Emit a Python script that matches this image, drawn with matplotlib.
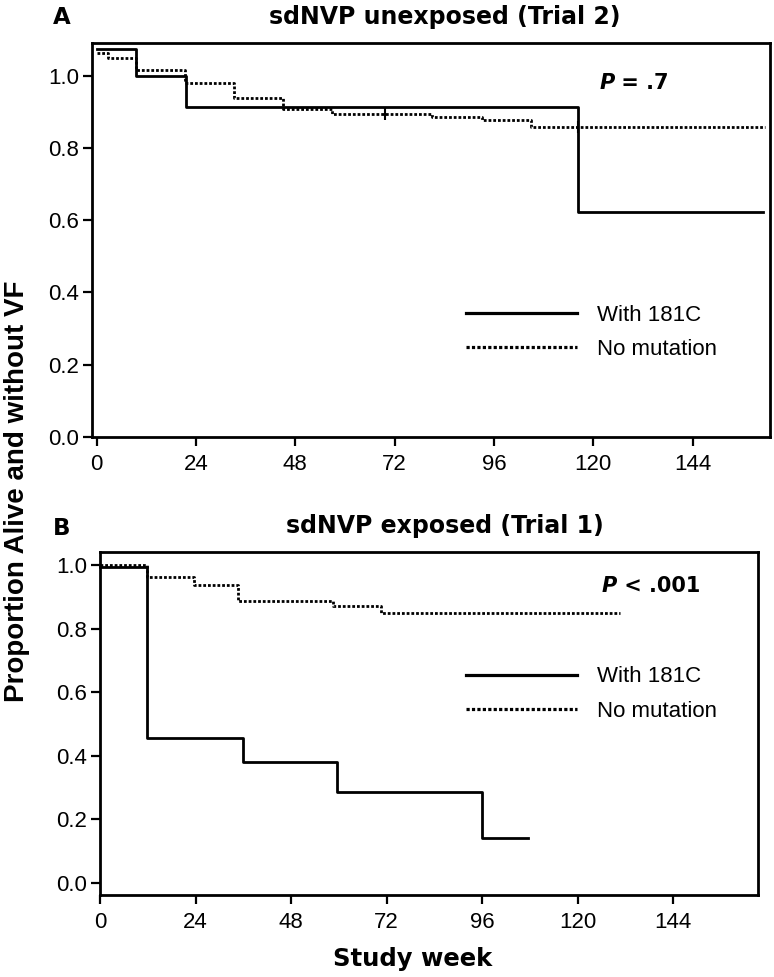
import matplotlib
matplotlib.use('Agg')
import matplotlib.pyplot as plt

plt.rcParams['font.family'] = ['Liberation Sans', 'DejaVu Sans']

# Panel A: sdNVP unexposed (Trial 2)
a_mut_weeks = [0, 9.6, 21.6, 116.4, 161.0]
a_mut_surv = [1.074, 1.0, 0.915, 0.623, 0.623]
a_none_weeks = [0, 2.8, 9.5, 21.3, 33.1, 45.1, 56.9, 81.0, 93.1, 104.9, 161.6]
a_none_surv = [1.063, 1.049, 1.018, 0.980, 0.938, 0.908, 0.894, 0.887, 0.878, 0.858, 0.858]
a_cens_weeks = [69.6, 116.4]
a_cens_surv = [0.894, 0.858]

# Panel B: sdNVP exposed (Trial 1)
b_mut_weeks = [0, 11.7, 36.0, 59.5, 95.9, 107.6]
b_mut_surv = [0.993, 0.455, 0.379, 0.284, 0.142, 0.142]
b_none_weeks = [0, 11.7, 23.7, 34.6, 58.6, 70.6, 130.5]
b_none_surv = [1.0, 0.961, 0.938, 0.887, 0.871, 0.848, 0.848]

xticks = [0, 24, 48, 72, 96, 120, 144]
yticks = [0.0, 0.2, 0.4, 0.6, 0.8, 1.0]
series_names = ['With 181C', 'No mutation']

DOT = (0, (1, 0.7))
W, H = 774, 977

fig = plt.figure(figsize=(W / 100, H / 100), dpi=100)


def px_axes(left, top, right, bottom):
    return fig.add_axes([left / W, 1 - bottom / H, (right - left) / W, (bottom - top) / H])


def style_axis(ax, xlim, ylim):
    ax.set_xlim(*xlim)
    ax.set_ylim(*ylim)
    ax.set_xticks(xticks)
    ax.set_yticks(yticks)
    ax.set_yticklabels(['%.1f' % v for v in yticks])
    for s in ax.spines.values():
        s.set_linewidth(2.0)
    ax.tick_params(axis='both', direction='out', length=6.5, width=1.6, labelsize=16)
    ax.tick_params(axis='x', pad=6)
    ax.tick_params(axis='y', pad=2.5)


def add_pvalue(ax, x, y, rest):
    t = ax.text(x, y, 'P', transform=ax.transAxes, fontsize=15, fontweight='bold',
                fontstyle='italic', family='DejaVu Sans', va='baseline', ha='left')
    ax.annotate(rest, xy=(1, 0), xycoords=t, fontsize=15, fontweight='bold',
                family='DejaVu Sans', va='bottom', ha='left')


def draw_panel(ax, mw, ms, nw, ns):
    l1, = ax.step(mw, ms, where='post', color='black', lw=2.0, clip_on=False)
    l2, = ax.step(nw, ns, where='post', color='black', lw=2.0, linestyle=DOT,
                  clip_on=False)
    return l1, l2


def add_legend(ax, handles, anchor):
    leg = ax.legend(handles, series_names, loc='center left', bbox_to_anchor=anchor,
                    frameon=False, fontsize=16, handlelength=5.0, handletextpad=0.9,
                    labelspacing=0.6, borderpad=0, borderaxespad=0)
    for ln in leg.get_lines():
        ln.set_linewidth(2.3)


# ---- panel A
axA = px_axes(91.7, 43.3, 770, 436.7)
hA = draw_panel(axA, a_mut_weeks, a_mut_surv, a_none_weeks, a_none_surv)
axA.plot(a_cens_weeks, a_cens_surv, linestyle='none', marker='|', ms=9, mew=1.5, color='black')
style_axis(axA, (-1.2, 162.7), (0, 1.0907))
add_legend(axA, hA, (0.552, 0.265))
add_pvalue(axA, 0.748, 0.884, ' = .7')

# ---- panel B
axB = px_axes(100, 551.7, 757.7, 894.5)
hB = draw_panel(axB, b_mut_weeks, b_mut_surv, b_none_weeks, b_none_surv)
style_axis(axB, (0, 165.2), (-0.0371, 1.0419))
add_legend(axB, hB, (0.5565, 0.585))
add_pvalue(axB, 0.763, 0.8824, ' < .001')

# titles, panel letters, shared labels
fig.text(445 / W, 1 - 24 / H, 'sdNVP unexposed (Trial 2)', ha='center', va='baseline',
         fontsize=17, fontweight='bold', family='DejaVu Sans')
fig.text(445 / W, 1 - 533 / H, 'sdNVP exposed (Trial 1)', ha='center', va='baseline',
         fontsize=17, fontweight='bold', family='DejaVu Sans')
fig.text(53 / W, 1 - 23.5 / H, 'A', ha='left', va='baseline', fontsize=16.5,
         fontweight='bold', family='DejaVu Sans')
fig.text(53 / W, 1 - 535 / H, 'B', ha='left', va='baseline', fontsize=16.5,
         fontweight='bold', family='DejaVu Sans')
fig.text(17 / W, 1 - 491.7 / H, 'Proportion Alive and without VF', rotation=90,
         ha='center', va='center', fontsize=20, fontweight='bold')
fig.text(412.6 / W, 1 - 966 / H, 'Study week', ha='center', va='baseline',
         fontsize=17.5, fontweight='bold', family='DejaVu Sans')

fig.savefig('out.png', dpi=100)
